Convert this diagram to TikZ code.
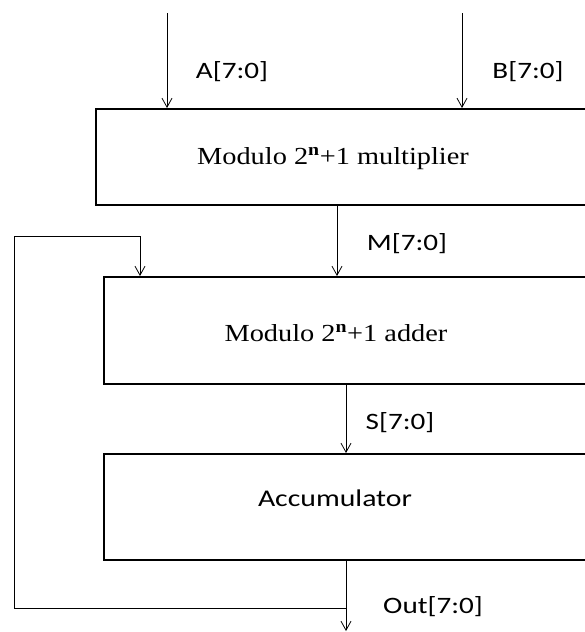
\documentclass[tikz,border=0pt]{standalone}
\usepackage{fontspec}
\setmainfont{Liberation Serif}
\newfontfamily\labelfont{Carlito}
\usetikzlibrary{arrows.meta,positioning}
\tikzset{
  block/.style={
    draw,
    line width=1.7pt,
    anchor=north west,
    inner sep=0pt
  },
  blocktext/.style={
    font=\fontsize{24.5}{28}\selectfont
  },
  sig/.style={
    font=\labelfont\fontsize{23.5}{27}\selectfont
  },
  arrow/.style={-{Straight Barb[length=9pt,width=10pt]}, line width=0.8pt},
  wire/.style={line width=0.8pt}
}
\newcommand{\wider}[2][1.24]{\scalebox{#1}[1]{#2}}

\begin{document}
\begin{tikzpicture}[x=1pt,y=-1pt]
\useasboundingbox (0,0) rectangle (584,632);

% Blocks (right edges run off the page)
\node[block, minimum width=520pt, minimum height=96pt] (mul) at (95,108) {};
\node[block, minimum width=520pt, minimum height=107pt] (add) at (103,276) {};
\node[block, minimum width=520pt, minimum height=106pt] (acc) at (103,453) {};

\node[blocktext] (multxt) at (333,159) {\wider[1.157]{Modulo 2\textsuperscript{\textbf{n}}+1 multiplier}};
\node[blocktext] (addtxt) at (336,333) {\wider[1.157]{Modulo 2\textsuperscript{\textbf{n}}+1 adder}};
\node[sig, font=\labelfont\fontsize{24}{27}\selectfont] (acctxt) at (335,498) {\wider{Accumulator}};

% Tap points
\coordinate (ain) at (167,13);
\coordinate (bin) at (462,13);
\coordinate (mtap) at (337,0);
\coordinate (stap) at (346,0);
\coordinate (outend) at (346,631);
\coordinate (fbjoin) at (346,608.5);
\coordinate (fbleft) at (14,608.5);
\coordinate (fbtop) at (14,236);
\coordinate (fbdown) at (140,236);

% Signals
\draw[arrow] (ain) -- (ain |- mul.north);
\draw[arrow] (bin) -- (bin |- mul.north);
\draw[arrow] (mtap |- mul.south) -- (mtap |- add.north);
\draw[arrow] (stap |- add.south) -- (stap |- acc.north);
\draw[arrow] (stap |- acc.south) -- (outend);
\draw[wire] (fbjoin) -- (fbleft) -- (fbtop) -- (fbdown);
\draw[arrow] (fbdown) -- (fbdown |- add.north);

% Labels
\node[sig] (alab) at (232,72) {\wider{A[7:0]}};
\node[sig] (blab) at (528,72) {\wider{B[7:0]}};
\node[sig] (mlab) at (407,244) {\wider{M[7:0]}};
\node[sig] (slab) at (400,423) {\wider{S[7:0]}};
\node[sig] (outlab) at (433,607) {\wider{Out[7:0]}};

\end{tikzpicture}
\end{document}
